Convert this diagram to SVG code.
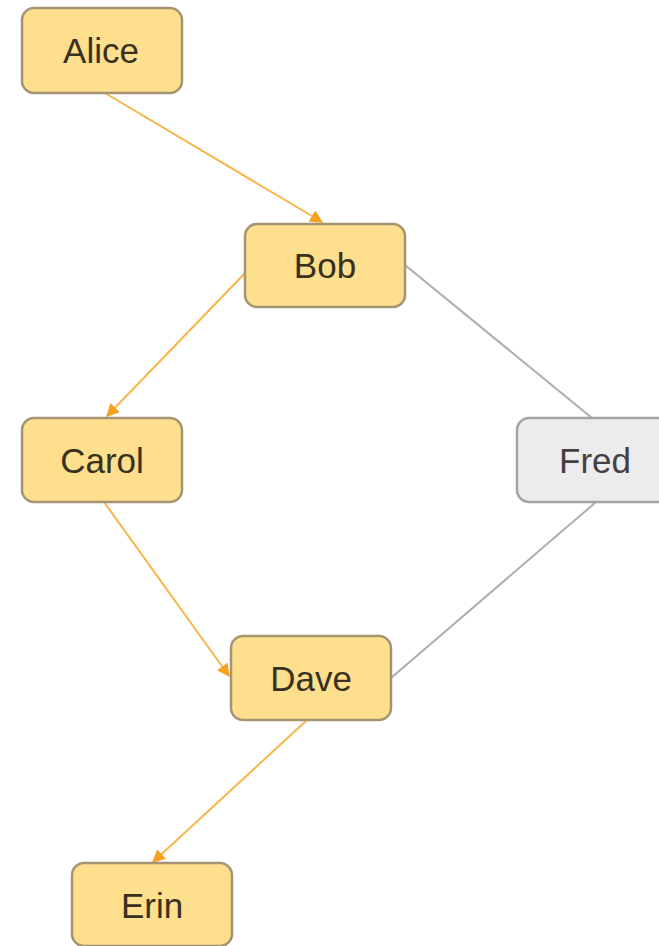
<svg xmlns="http://www.w3.org/2000/svg" width="659" height="946" viewBox="0 0 659 946">
<style>
.n rect{fill:#fddf8e;stroke:#a59471;stroke-width:2.5}
.n.g rect{fill:#ececec;stroke:#a3a3a3}
.n text{font-family:"Liberation Sans",Arial,sans-serif;font-size:35px;fill:#3a3020;text-anchor:middle}
.n.g text{fill:#454045}
.e{fill:none;stroke-width:2}
.o{stroke:#f8b54a}
.gr{stroke:#adadad}
</style>
<defs>
<marker id="a" viewBox="0 0 10 10" refX="9" refY="5" markerWidth="6.5" markerHeight="6.5" orient="auto" markerUnits="strokeWidth">
<path d="M0,0 L10,5 L0,10 z" fill="#f5a01e"/>
</marker>
</defs>
<rect width="659" height="946" fill="#ffffff"/>
<g id="edges">
<line class="e o" x1="105" y1="93" x2="322" y2="222" marker-end="url(#a)"/>
<line class="e o" x1="248" y1="270" x2="107" y2="416" marker-end="url(#a)"/>
<line class="e o" x1="104" y1="502" x2="229" y2="676" marker-end="url(#a)"/>
<line class="e o" x1="307" y1="720" x2="153" y2="862" marker-end="url(#a)"/>
<line class="e gr" x1="405" y1="265" x2="592" y2="418"/>
<line class="e gr" x1="596" y1="502" x2="391" y2="678"/>
</g>
<g id="alice" class="n"><rect x="22" y="8" width="160" height="85" rx="12"/><text x="101" y="63">Alice</text></g>
<g id="bob" class="n"><rect x="245" y="224" width="160" height="83" rx="12"/><text x="325" y="278">Bob</text></g>
<g id="carol" class="n"><rect x="22" y="418" width="160" height="84" rx="12"/><text x="102" y="473">Carol</text></g>
<g id="fred" class="n g"><rect x="517" y="418" width="160" height="84" rx="12"/><text x="595" y="473">Fred</text></g>
<g id="dave" class="n"><rect x="231" y="636" width="160" height="84" rx="12"/><text x="311" y="691">Dave</text></g>
<g id="erin" class="n"><rect x="72" y="863" width="160" height="83" rx="12"/><text x="152" y="918">Erin</text></g>
</svg>
